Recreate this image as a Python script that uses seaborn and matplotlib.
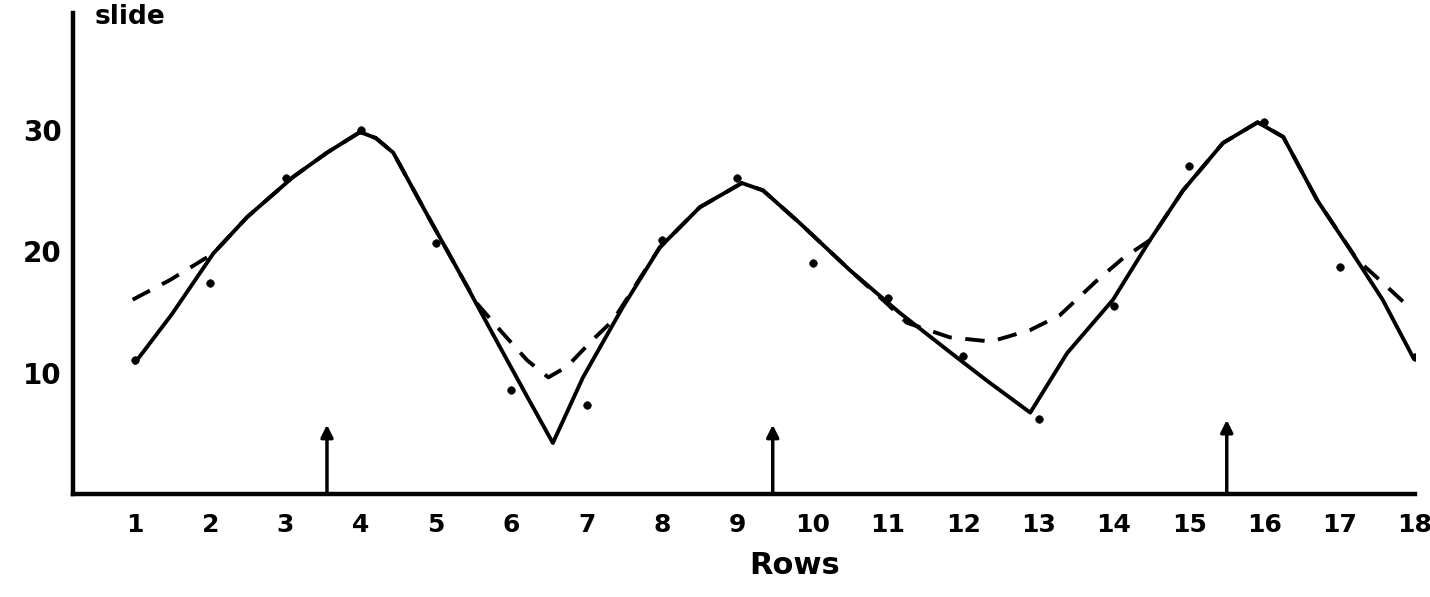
import numpy as np
import pandas as pd
import matplotlib
matplotlib.use("Agg")
import matplotlib.pyplot as plt
import seaborn as sns

# observed counts per row
rows = list(range(1, 19))
counts = [11.0, 17.4, 26.0, 30.0, 20.7, 8.6, 7.3, 20.9, 26.0,
          19.0, 16.1, 11.4, 6.2, 15.5, 27.0, 30.6, 18.7, 11.3]

# freehand solid curve
solid_x = [1.0, 1.49, 2.04, 2.49, 3.10, 3.55, 3.99, 4.20, 4.43, 4.88, 5.32, 5.75, 6.21, 6.55,
           6.95, 7.48, 7.97, 8.50, 9.06, 9.34, 9.83, 10.50, 11.16, 11.82, 12.30, 12.89,
           13.38, 13.99, 14.48, 14.92, 15.45, 15.91, 16.25, 16.70, 17.14, 17.57, 17.97]
solid_y = [10.8, 14.8, 19.8, 22.8, 26.1, 28.1, 29.8, 29.3, 28.1, 23.0, 18.1, 13.2, 8.0, 4.2,
           9.6, 15.4, 20.3, 23.6, 25.6, 25.0, 22.3, 18.4, 14.9, 11.7, 9.4, 6.7,
           11.6, 16.0, 20.9, 25.0, 28.9, 30.6, 29.4, 24.2, 20.1, 16.0, 11.3]

# dashed (smoothed) curve
dash_x = [0.97, 1.46, 2.04, 2.49, 3.10, 3.55, 3.99, 4.20, 4.43, 4.88, 5.32, 5.54, 5.89, 6.21,
          6.49, 6.74, 7.08, 7.35, 7.97, 8.50, 9.06, 9.34, 9.83, 10.50, 11.0, 11.25, 11.82,
          12.37, 12.89, 13.28, 13.78, 14.12, 14.48, 14.92, 15.45, 15.91, 16.25, 16.70,
          17.23, 17.57, 17.97]
dash_y = [16.0, 17.6, 19.8, 22.8, 26.1, 28.1, 29.8, 29.3, 28.1, 23.0, 18.1, 15.7, 13.2, 11.0,
          9.6, 10.5, 12.7, 14.3, 20.3, 23.6, 25.6, 25.0, 22.3, 18.4, 15.6, 14.1, 12.9,
          12.55, 13.5, 14.7, 17.6, 19.4, 20.9, 25.0, 28.9, 30.6, 29.4, 24.2,
          19.3, 17.4, 15.1]

# arrows marking rows
arrow_x = [3.55, 9.47, 15.5]
arrow_top = [5.7, 5.7, 6.1]

sns.set_style("white")
plt.rcParams['font.family'] = ['DejaVu Sans']
plt.rcParams['text.color'] = 'black'
plt.rcParams['axes.labelcolor'] = 'black'
plt.rcParams['xtick.color'] = 'black'
plt.rcParams['ytick.color'] = 'black'

fig = plt.figure(figsize=(14.3, 5.97), dpi=100)
ax = fig.add_axes([73/1430, (597-494)/597, (1415-73)/1430, (494-13)/597])

sns.lineplot(x=solid_x, y=solid_y, sort=False, estimator=None, color='black', lw=2.8, ax=ax)
sns.lineplot(x=dash_x, y=dash_y, sort=False, estimator=None, color='black', lw=2.8,
             linestyle=(0, (5, 3.5)), ax=ax)
sns.scatterplot(x=rows, y=counts, color='black', s=30, edgecolor='black', zorder=5, ax=ax)

for ax_x, top in zip(arrow_x, arrow_top):
    ax.annotate('', xy=(ax_x, top), xytext=(ax_x, 0),
                arrowprops=dict(arrowstyle='-|>', color='black', lw=2.5,
                                mutation_scale=18, shrinkA=0, shrinkB=0))

ax.set_xlim(0.177, 18.0)
ax.set_ylim(0, 39.6)
ax.set_xticks(rows)
ax.set_xticklabels([str(r) for r in rows], fontsize=18, fontweight='bold')
ax.set_yticks([10, 20, 30])
ax.set_yticklabels(['10', '20', '30'], fontsize=20, fontweight='bold')
ax.tick_params(axis='x', direction='in', length=6, width=2, pad=14)
ax.tick_params(axis='y', direction='in', length=8, width=2.5, pad=8)

sns.despine(ax=ax)
for s in ['left', 'bottom']:
    ax.spines[s].set_linewidth(3.2)
    ax.spines[s].set_color('black')

ax.set_xlabel('Rows', fontsize=22, fontweight='bold')
ax.xaxis.set_label_coords((795 - 73) / 1342, -(565 - 494) / 481)
ax.xaxis.label.set_va('center')
fig.text(95/1430, 1 - 24/597, 'slide', fontsize=19, fontweight='bold', va='baseline', ha='left')

fig.savefig('out.png', dpi=100)
